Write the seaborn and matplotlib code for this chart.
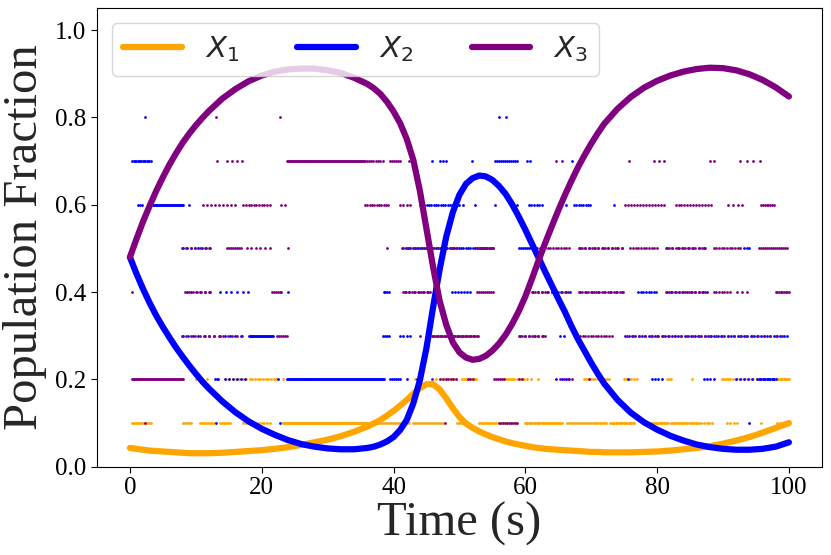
import numpy as np
import pandas as pd
import matplotlib
matplotlib.use("Agg")
import matplotlib.pyplot as plt
import seaborn as sns

# ---------------- data ----------------
series_names = ["$X_1$", "$X_2$", "$X_3$"]
series_colors = ["orange", "blue", "purple"]

t_curve = [0, 1, 2, 3, 4, 5, 6, 7, 8, 9, 10, 11, 12,
           14, 16, 18, 20, 22, 24, 26, 28, 30, 32, 34, 36,
           37, 38, 39, 40, 41, 42, 43, 44, 45, 46, 47, 48, 49, 50, 51, 52, 53, 54,
           55, 56, 57, 58, 59, 60, 61, 62, 63, 64, 65, 66, 67, 68, 69, 70, 71, 72,
           74, 76, 78, 80, 82, 84, 86, 88, 90, 92, 94, 96, 98, 100]

x1_curve = [0.043, 0.041, 0.039, 0.037, 0.036, 0.035, 0.034, 0.033, 0.032, 0.031, 0.031, 0.031, 0.031,
            0.032, 0.034, 0.036, 0.038, 0.041, 0.045, 0.050, 0.056, 0.062, 0.070, 0.080, 0.092,
            0.099, 0.107, 0.117, 0.128, 0.140, 0.153, 0.167, 0.180, 0.189, 0.189, 0.177, 0.157,
            0.134, 0.114, 0.099, 0.089, 0.081, 0.074,
            0.068, 0.063, 0.058, 0.054, 0.051, 0.048, 0.045, 0.043, 0.041, 0.040, 0.039, 0.038,
            0.037, 0.036, 0.035, 0.034, 0.034, 0.033,
            0.033, 0.033, 0.034, 0.035, 0.037, 0.040, 0.043, 0.047, 0.053, 0.060, 0.068, 0.078,
            0.089, 0.100]

x2_curve = [0.480, 0.442, 0.407, 0.375, 0.346, 0.320, 0.296, 0.273, 0.252, 0.232, 0.213, 0.195, 0.179,
            0.150, 0.125, 0.104, 0.087, 0.073, 0.061, 0.052, 0.046, 0.042, 0.040, 0.040, 0.043,
            0.046, 0.051, 0.058, 0.068, 0.084, 0.107, 0.145, 0.198, 0.272, 0.365, 0.452, 0.527,
            0.583, 0.623, 0.648, 0.661, 0.667, 0.665,
            0.657, 0.643, 0.625, 0.601, 0.573, 0.543, 0.511, 0.479, 0.447, 0.416, 0.385, 0.355,
            0.322, 0.292, 0.265, 0.238, 0.213, 0.190,
            0.153, 0.124, 0.102, 0.085, 0.071, 0.060, 0.051, 0.045, 0.041, 0.039, 0.039, 0.041,
            0.046, 0.056]

x3_curve = [0.480, 0.522, 0.562, 0.598, 0.632, 0.663, 0.692, 0.718, 0.742, 0.763, 0.782, 0.799, 0.815,
            0.843, 0.865, 0.883, 0.896, 0.905, 0.910, 0.912, 0.912, 0.908, 0.902, 0.891, 0.877,
            0.867, 0.854, 0.836, 0.814, 0.787, 0.751, 0.703, 0.632, 0.545, 0.458, 0.380, 0.325,
            0.285, 0.262, 0.250, 0.245, 0.247, 0.254,
            0.266, 0.282, 0.302, 0.327, 0.356, 0.390, 0.430, 0.472, 0.512, 0.550, 0.587, 0.622,
            0.655, 0.686, 0.714, 0.740, 0.764, 0.786,
            0.820, 0.847, 0.868, 0.884, 0.896, 0.905, 0.911, 0.914, 0.913, 0.908, 0.899, 0.886,
            0.869, 0.848]

# stochastic samples: runs of dots (level, t_start, t_end, spacing)
x1_runs = [
    (0.1, 0.25, 3.3, 0.3), (0.1, 8.1, 9.4, 0.3), (0.1, 10.6, 12.9, 0.3), (0.1, 13.7, 15.2, 0.3),
    (0.1, 17.2, 21.5, 0.4), (0.1, 23.3, 36.0, 0.15), (0.1, 36.0, 42.5, 0.3), (0.1, 43.0, 47.6, 0.3),
    (0.1, 49.6, 51.6, 0.3), (0.1, 52.9, 55.7, 0.3), (0.1, 56.2, 58.6, 0.8), (0.1, 59.9, 65.6, 0.2),
    (0.1, 66.3, 72.4, 0.3), (0.1, 72.9, 76.5, 0.2), (0.1, 78.0, 81.6, 0.2), (0.1, 82.1, 86.7, 0.25),
    (0.1, 87.1, 88.6, 0.4), (0.1, 90.6, 91.6, 0.5), (0.1, 92.1, 92.1, 1), (0.1, 95.7, 95.7, 1),
    (0.1, 98.2, 99.3, 0.5),
    (0.2, 10.1, 10.1, 1), (0.2, 11.65, 11.65, 1), (0.2, 14.6, 17.6, 0.5), (0.2, 18.2, 22.3, 0.4),
    (0.2, 23.3, 23.3, 1), (0.2, 43.2, 44.2, 0.4), (0.2, 46.5, 49.5, 0.5), (0.2, 50.4, 52.7, 0.3),
    (0.2, 56.8, 58.3, 0.3), (0.2, 58.8, 60.8, 0.5), (0.2, 62.0, 62.0, 1), (0.2, 68.9, 72.9, 0.35),
    (0.2, 74.9, 76.96, 0.4), (0.2, 81.5, 82.3, 0.3), (0.2, 85.3, 85.3, 1), (0.2, 89.9, 91.2, 0.3),
    (0.2, 91.5, 95.5, 0.6), (0.2, 98.2, 100.0, 0.2),
]

x2_runs = [
    (0.8, 2.3, 2.3, 1), (0.8, 55.95, 57.1, 1.15),
    (0.7, 0.35, 3.2, 0.2), (0.7, 45.8, 45.8, 1), (0.7, 47.1, 47.9, 0.4), (0.7, 51.9, 51.9, 1),
    (0.7, 55.4, 58.7, 0.3), (0.7, 60.2, 60.7, 0.5), (0.7, 67.1, 67.1, 1),
    (0.6, 1.2, 1.8, 0.3), (0.6, 3.5, 8.1, 0.15), (0.6, 9.0, 9.0, 1), (0.6, 44.0, 50.0, 0.35),
    (0.6, 50.6, 50.6, 1), (0.6, 52.4, 52.4, 1), (0.6, 55.4, 55.4, 1), (0.6, 58.7, 58.7, 1),
    (0.6, 60.5, 62.8, 0.4), (0.6, 66.1, 66.1, 1), (0.6, 67.4, 70.1, 0.35), (0.6, 73.4, 73.4, 1),
    (0.5, 8.0, 12.7, 0.6), (0.5, 41.5, 55.2, 0.35), (0.5, 59.0, 60.8, 0.3), (0.5, 68.3, 74.7, 0.7),
    (0.5, 81.5, 87.6, 0.8), (0.5, 93.2, 94.0, 0.4),
    (0.4, 8.6, 12.2, 0.7), (0.4, 13.7, 18.0, 0.85), (0.4, 24.05, 24.05, 1), (0.4, 38.5, 39.25, 0.25),
    (0.4, 41.7, 45.6, 0.7), (0.4, 48.9, 51.6, 0.45), (0.4, 61.2, 66.8, 0.7), (0.4, 68.3, 75.2, 0.9),
    (0.4, 77.1, 80.0, 0.4), (0.4, 81.5, 87.6, 0.6),
    (0.3, 8.0, 17.2, 0.8), (0.3, 18.0, 21.8, 0.15), (0.3, 38.4, 39.5, 0.3), (0.3, 41.0, 42.8, 0.5),
    (0.3, 59.2, 63.0, 0.7), (0.3, 65.3, 65.8, 0.5), (0.3, 75.2, 99.8, 0.5),
    (0.2, 12.9, 13.4, 0.25), (0.2, 14.4, 17.7, 0.6), (0.2, 22.5, 22.5, 1), (0.2, 23.8, 38.5, 0.15),
    (0.2, 39.5, 41.0, 0.3), (0.2, 42.0, 42.0, 1), (0.2, 43.5, 43.5, 1), (0.2, 64.6, 64.6, 1),
    (0.2, 65.6, 66.6, 0.5), (0.2, 75.6, 75.6, 1), (0.2, 79.2, 80.7, 0.5), (0.2, 87.1, 88.6, 0.5),
    (0.2, 92.0, 94.5, 0.6), (0.2, 95.2, 98.0, 0.2),
    (0.1, 13.05, 13.05, 1), (0.1, 22.8, 22.8, 1), (0.1, 93.9, 93.9, 1),
]

x3_runs = [
    (0.8, 13.1, 13.1, 1), (0.8, 22.8, 22.8, 1),
    (0.7, 13.2, 13.2, 1), (0.7, 14.8, 17.6, 0.75), (0.7, 23.8, 35.7, 0.15), (0.7, 35.9, 38.5, 0.35),
    (0.7, 39.5, 41.0, 0.3), (0.7, 42.3, 42.3, 1), (0.7, 64.6, 65.6, 1.0), (0.7, 75.7, 75.7, 1),
    (0.7, 79.5, 81.0, 0.75), (0.7, 88.1, 88.6, 0.5), (0.7, 92.6, 95.6, 1.0),
    (0.6, 11.1, 16.2, 0.6), (0.6, 17.2, 21.5, 0.4), (0.6, 23.0, 23.5, 0.5), (0.6, 35.7, 39.5, 0.35),
    (0.6, 41.0, 42.5, 0.5), (0.6, 75.2, 81.3, 0.45), (0.6, 82.8, 88.4, 0.45), (0.6, 90.7, 93.0, 0.75),
    (0.6, 95.7, 98.0, 0.3),
    (0.5, 7.85, 12.7, 0.7), (0.5, 14.7, 17.0, 0.3), (0.5, 17.7, 21.8, 0.7), (0.5, 24.05, 24.05, 1),
    (0.5, 39.0, 39.0, 1), (0.5, 41.3, 50.1, 0.6), (0.5, 52.7, 55.2, 0.3), (0.5, 61.8, 66.8, 0.4),
    (0.5, 68.1, 74.7, 0.5), (0.5, 75.96, 80.0, 0.4), (0.5, 81.3, 87.6, 0.5), (0.5, 88.6, 92.7, 0.4),
    (0.5, 95.5, 99.8, 0.3),
    (0.4, 0.25, 0.25, 1), (0.4, 8.4, 12.2, 0.6), (0.4, 21.5, 23.0, 0.3), (0.4, 41.5, 45.6, 0.45),
    (0.4, 52.7, 55.2, 0.3), (0.4, 61.0, 66.8, 0.5), (0.4, 68.1, 75.2, 0.45), (0.4, 81.3, 87.6, 0.5),
    (0.4, 88.6, 91.1, 0.4), (0.4, 92.1, 93.7, 0.8), (0.4, 98.0, 100.0, 0.25),
    (0.3, 7.85, 17.2, 0.7), (0.3, 22.3, 23.8, 0.3), (0.3, 44.05, 44.05, 1), (0.3, 45.8, 52.9, 0.2),
    (0.3, 59.0, 63.0, 0.5), (0.3, 67.9, 73.4, 0.4), (0.3, 75.5, 99.5, 0.9),
    (0.2, 0.25, 8.1, 0.15), (0.2, 45.8, 45.8, 1), (0.2, 47.1, 49.6, 0.4), (0.2, 51.3, 52.0, 0.35),
    (0.2, 55.2, 56.8, 0.3), (0.2, 59.0, 59.5, 0.5), (0.2, 65.3, 67.1, 0.6), (0.2, 69.7, 69.7, 1),
    (0.1, 2.3, 2.3, 1), (0.1, 47.85, 47.85, 1), (0.1, 56.0, 58.7, 0.3),
]

x_ticks = [0, 20, 40, 60, 80, 100]
y_ticks = [0.0, 0.2, 0.4, 0.6, 0.8, 1.0]
x_label = "Time (s)"
y_label = "Population Fraction"

# ---------------- build tables ----------------
def runs_to_df(runs, name):
    rows = []
    for lev, t0, t1, dt in runs:
        for t in np.arange(t0, t1 + 1e-6, dt):
            rows.append((t, lev, name))
    return pd.DataFrame(rows, columns=["t", "y", "series"])

dots = pd.concat([runs_to_df(r, n) for r, n in zip([x1_runs, x2_runs, x3_runs], series_names)])
curves = pd.concat([pd.DataFrame({"t": t_curve, "y": v, "series": n})
                    for v, n in zip([x1_curve, x2_curve, x3_curve], series_names)])

# ---------------- plot ----------------
sns.set_style("ticks")
plt.rcParams["font.family"] = ["Liberation Serif", "DejaVu Serif"]
plt.rcParams["mathtext.fontset"] = "dejavusans"

fig, ax = plt.subplots(figsize=(8.31, 5.55), dpi=100)
fig.subplots_adjust(left=0.1167, right=0.989, top=0.985, bottom=0.159)

palette = dict(zip(series_names, series_colors))
for n in series_names:
    sub = dots[dots.series == n]
    sns.scatterplot(data=sub, x="t", y="y", color=palette[n], s=4, linewidth=0,
                    ax=ax, legend=False, zorder=2)
for n in series_names:
    sub = curves[curves.series == n]
    sns.lineplot(data=sub, x="t", y="y", color=palette[n], lw=4.5, ax=ax,
                 label=n, zorder=3, sort=True, solid_joinstyle="round")

ax.set_xlim(-5, 105)
ax.set_ylim(0, 1.05)
ax.set_xticks(x_ticks)
ax.set_yticks(y_ticks)
ax.set_yticklabels([f"{v:.1f}" for v in y_ticks])
ax.tick_params(labelsize=18, length=4, width=0.8, colors="black")
for sp in ax.spines.values():
    sp.set_visible(True)
    sp.set_linewidth(0.8)
    sp.set_color("black")
ax.set_xlabel(x_label, fontsize=35, labelpad=2)
ax.set_ylabel(y_label, fontsize=35, labelpad=6)

leg = ax.legend(loc="upper left", ncol=3, fontsize=21, frameon=True)
for h in leg.get_lines():
    h.set_linewidth(4.5)

fig.savefig("out.png", dpi=100)
